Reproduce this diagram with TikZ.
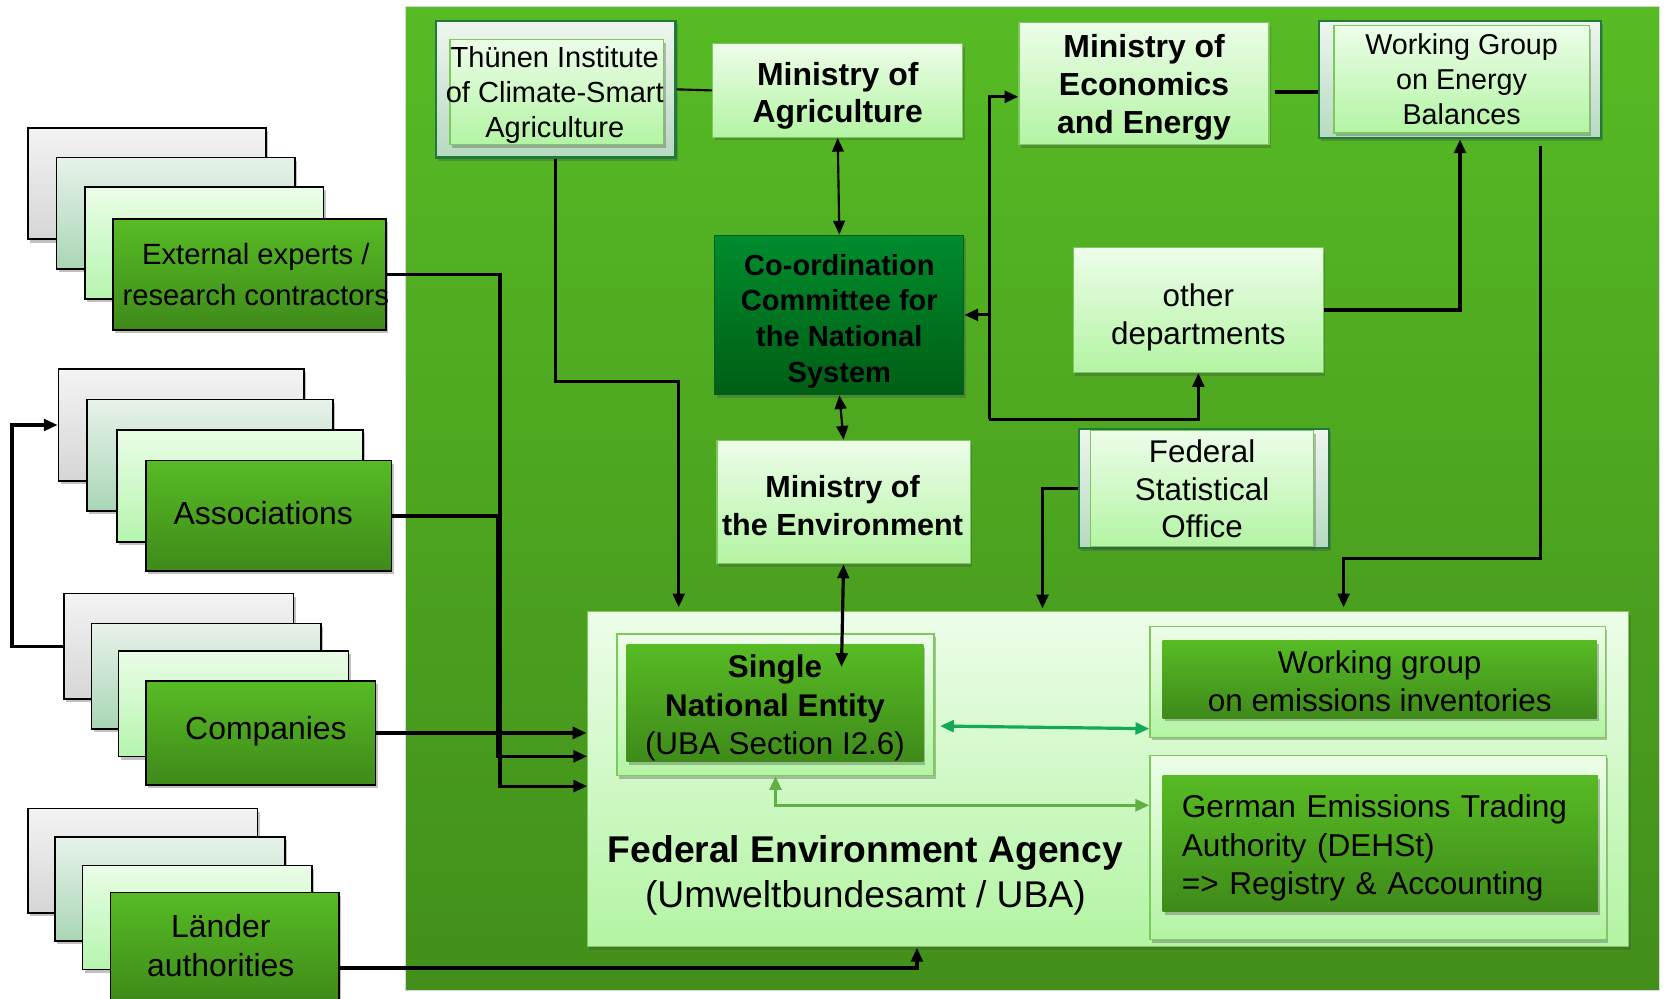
\documentclass[tikz,border=0pt]{standalone}
\usepackage{fontspec}
\setmainfont{Liberation Sans}
\usetikzlibrary{arrows.meta,shadows}
\definecolor{bgTop}{HTML}{57BB24}
\definecolor{bgBot}{HTML}{428F1B}
\definecolor{gTop}{HTML}{57BB24}
\definecolor{gBot}{HTML}{3F8A1A}
\definecolor{lgTop}{HTML}{EDFDE9}
\definecolor{lgBot}{HTML}{B3F4A3}
\definecolor{lgBorder}{HTML}{7CC95C}
\definecolor{bAtop}{HTML}{F3F3F3}
\definecolor{bAbot}{HTML}{D6D6D6}
\definecolor{bBtop}{HTML}{E7F2EA}
\definecolor{bBbot}{HTML}{A9D6B5}
\definecolor{bCtop}{HTML}{EAFDE7}
\definecolor{bCbot}{HTML}{B5F5AE}
\definecolor{ccTop}{HTML}{008C2E}
\definecolor{ccBot}{HTML}{005E14}
\definecolor{frTop}{HTML}{EEF6EF}
\definecolor{frBot}{HTML}{B7D9C0}
\definecolor{frBorder}{HTML}{1E7B3A}
\definecolor{tealArr}{HTML}{12AA58}
\definecolor{lgArr}{HTML}{62B043}
\newcommand\myfs[2]{\fontsize{#1}{#2}\selectfont}
\begin{document}
\begin{tikzpicture}[x=1pt,y=-1pt,
  every node/.style={inner sep=0pt, align=center},
  >={Triangle[length=13pt,width=11pt]},
  shd/.style={drop shadow={shadow xshift=2pt,shadow yshift=-3pt,opacity=0.35,fill=black!70}},
  light/.style={draw=lgBorder,line width=1.2pt,top color=lgTop,bottom color=lgBot,shd},
  frontbox/.style={draw=black,line width=1.6pt,top color=gTop,bottom color=gBot,shd},
  backA/.style={draw=black,line width=1.6pt,top color=bAtop,bottom color=bAbot,shd},
  backB/.style={draw=black,line width=1.6pt,top color=bBtop,bottom color=bBbot,shd},
  backC/.style={draw=black,line width=1.6pt,top color=bCtop,bottom color=bCbot,shd},
  innergreen/.style={draw=none,top color=gTop,bottom color=gBot,shd},
  framed/.style={draw=frBorder,line width=2pt,top color=frTop,bottom color=frBot,shd},
  conn/.style={draw=black,line width=3pt},
  thinconn/.style={draw=black,line width=2pt}
]
\useasboundingbox (0,0) rectangle (1568,939);

% background panel
\node[draw=black!15,line width=1pt,top color=bgTop,bottom color=bgBot,
      minimum width=1179,minimum height=925] (bg) at (970.5,468.5) {};

% ---- left stacks ----
\node[backA,minimum width=224,minimum height=105] (extA) at (138,172.5) {};
\node[backB,minimum width=224,minimum height=105] (extB) at (165,200.5) {};
\node[backC,minimum width=224,minimum height=105] (extC) at (192,228.5) {};
\node[frontbox,minimum width=257,minimum height=104] (extF) at (234.5,258) {};
\node[font={\myfs{27.5}{38}}] (extT) at ([xshift=6pt]extF.center) {External experts /\\research contractors};

\node[backA,minimum width=231,minimum height=105] (assA) at (170.5,399.5) {};
\node[backB,minimum width=231,minimum height=105] (assB) at (197.5,428) {};
\node[backC,minimum width=231,minimum height=105] (assC) at (225.5,457) {};
\node[frontbox,minimum width=231,minimum height=104] (assF) at (252.5,485) {};
\node[font={\myfs{30}{36}}] (assT) at ([xshift=-5pt,yshift=3pt]assF.center) {Associations};

\node[backA,minimum width=216,minimum height=99] (comA) at (168,607.5) {};
\node[backB,minimum width=216,minimum height=99] (comB) at (194,635.5) {};
\node[backC,minimum width=216,minimum height=99] (comC) at (219.5,661.5) {};
\node[frontbox,minimum width=216,minimum height=98] (comF) at (245,689) {};
\node[font={\myfs{30}{36}}] (comT) at ([xshift=5pt,yshift=2pt]comF.center) {Companies};

\node[backA,minimum width=216,minimum height=98] (lanA) at (134,809) {};
\node[backB,minimum width=216,minimum height=98] (lanB) at (160,835.5) {};
\node[backC,minimum width=216,minimum height=98] (lanC) at (185.5,862.5) {};
\node[frontbox,minimum width=215,minimum height=104] (lanF) at (211.5,891) {};
\node[font={\myfs{30}{37}}] (lanT) at ([xshift=-4pt,yshift=2pt]lanF.center) {L\"ander\\authorities};

% ---- top nodes ----
\node[framed,minimum width=225,minimum height=128] (thuO) at (522.5,84) {};
\node[light,minimum width=201,minimum height=99] (thuI) at (523.5,86.5) {};
\node[font={\myfs{27.3}{33}}] (thuT) at ([xshift=-2pt,yshift=-3pt]thuI.center) {Th\"unen Institute\\of Climate-Smart\\Agriculture};
\node[light,minimum width=235,minimum height=88] (minAg) at (787.5,85) {};
\node[font={\myfs{30}{35}\bfseries}] (minAgT) at ([yshift=-5pt]minAg.center) {Ministry of\\Agriculture};
\node[light,minimum width=235,minimum height=115] (mee) at (1075.5,78.5) {};
\node[font={\myfs{30}{36}\bfseries}] (meeT) at ([yshift=-3.5pt]mee.center) {Ministry of\\Economics\\and Energy};
\node[framed,minimum width=265,minimum height=110] (wgebO) at (1372.5,75) {};
\node[light,minimum width=240,minimum height=101,font={\myfs{27}{33}}] (wgebI) at (1374,74.5) {Working Group\\on Energy\\Balances};
\node[draw=ccTop!70!black,line width=1pt,top color=ccTop,bottom color=ccBot,shd,
      minimum width=234,minimum height=150] (coco) at (789,296) {};
\node[font={\myfs{27.3}{33.5}\bfseries}] (cocoT) at ([yshift=-6pt]coco.center) {Co-ordination\\Committee for\\the National\\System};
\node[light,minimum width=235,minimum height=117] (other) at (1126.5,291.5) {};
\node[font={\myfs{29.5}{35.5}}] (otherT) at ([yshift=-7pt]other.center) {other\\departments};
\node[light,minimum width=238,minimum height=116] (minEnv) at (793,472) {};
\node[font={\myfs{28.7}{36}\bfseries}] (minEnvT) at ([xshift=-1pt,yshift=-3pt]minEnv.center) {Ministry of\\the Environment};
\node[framed,minimum width=235,minimum height=112] (fsoO) at (1131.5,459) {};
\node[light,minimum width=210,minimum height=109,font={\myfs{29.5}{35.5}}] (fsoI) at (1130,459.5) {Federal\\Statistical\\Office};

% ---- Federal Environment Agency ----
\node[light,minimum width=979,minimum height=315] (fea) at (1041.5,732.5) {};
\node[light,minimum width=298,minimum height=133] (sneO) at (729,662.5) {};
\node[innergreen,minimum width=279,minimum height=110] (sneI) at (728.5,661) {};
\node[font={\myfs{29.5}{36}}] (sneT) at ([yshift=-4.5pt]sneI.center) {\textbf{Single}\\\textbf{National Entity}\\(UBA Section I2.6)};
\node[light,minimum width=428,minimum height=104] (wgeO) at (1295,641) {};
\node[innergreen,minimum width=408,minimum height=73] (wgeI) at (1297,638.5) {};
\node[font={\myfs{29.5}{36}}] (wgeT) at ([yshift=-2pt]wgeI.center) {Working group\\on emissions inventories};
\node[light,minimum width=429,minimum height=173] (dehO) at (1295.5,796.5) {};
\node[innergreen,minimum width=409,minimum height=128] (dehI) at (1297.5,793) {};
\node[text width=373,align=left,font={\myfs{29.7}{36}}] (dehT) at ([yshift=-4pt]dehI.center) {German Emissions Trading\\Authority (DEHSt)\\=> Registry \& Accounting};
\node[font={\myfs{35}{42}}] (feaLbl) at (813.5,823) {\textbf{Federal Environment Agency}\\(Umweltbundesamt / UBA)};

% ---- helper coordinates ----
\coordinate (thuM) at (638,359);
\coordinate (thuB) at (638,571);
\coordinate (loopB) at (930,394);
\coordinate (fsoD) at (980,572);
\coordinate (wgR) at (1448,525);
\coordinate (wgT) at (1263,571);
\coordinate (sneTip) at (791,627);
\coordinate (extV) at (470,739);
\coordinate (extE) at (552,739);
\coordinate (assV) at (468,711);
\coordinate (assE) at (552,711);
\coordinate (lanS) at (319,910);
\coordinate (lanE) at (862,891);

% ---- connectors ----
\draw[thinconn] (thuO.east) -- (minAg.west);
\draw[thinconn,<->] (minAg.south) -- (coco.north);
\draw[thinconn,<->] (coco.south) -- (minEnv.north);
\draw[conn,<->] (minEnv.south) -- (sneTip);
\draw[conn] ([xshift=5pt,yshift=-8pt]mee.east) -- ([yshift=-11.5pt]wgebO.west);
\draw[conn,->] (other.east) -| (wgebO.south);
\draw[conn,->] ([xshift=75.5pt,yshift=-6pt]wgebO.south) |- (wgR -| wgT) -- (wgT);
\draw[conn,->] (loopB) |- ([yshift=-12.5pt]mee.west);
\draw[conn,->] (loopB |- coco.east) -- (coco.east);
\draw[conn,->] (loopB) -| (other.south);
\draw[conn,->] (fsoO.west) -| (fsoD);
\draw[conn,->] (thuO.south) |- (thuM) -- (thuB);
\draw[conn,->] (extF.east) -| (extV) -- (extE);
\draw[conn,->] (assF.east) -| (assV) -- (assE);
\draw[draw=black,line width=4pt,->] (comF.east) -- (fea.west |- comF.east);
\draw[conn,->] (lanS) -| (lanE);
\draw[conn,->] (comA.west) -- ++(-48,0) |- (assA.west);
\draw[draw=tealArr,line width=3pt,<->] ([xshift=5pt,yshift=-20pt]sneO.east) -- ([yshift=-44pt]wgeO.west);
\draw[draw=lgArr,line width=3pt,<->] (sneO.south) |- ([yshift=39.5pt]dehO.west);
\end{tikzpicture}
\end{document}
